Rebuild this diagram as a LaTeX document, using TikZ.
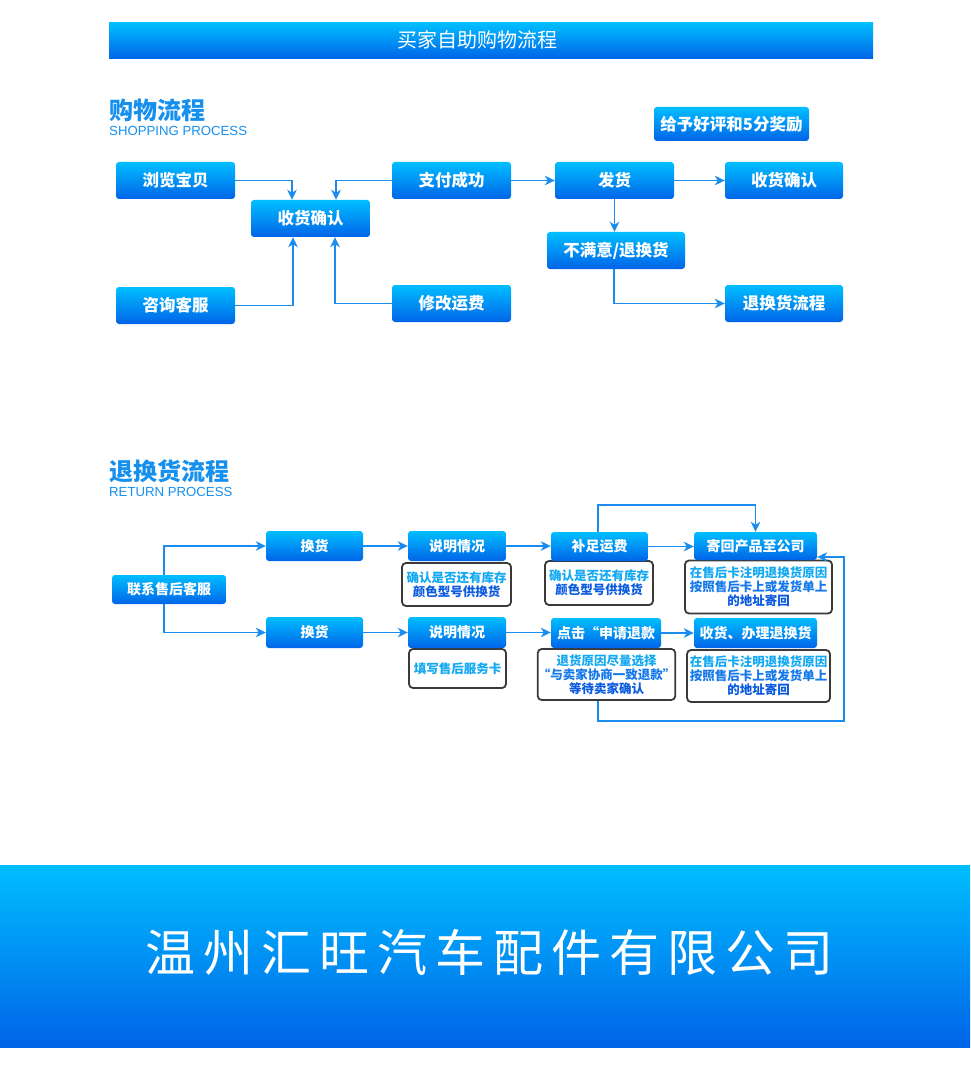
\documentclass[tikz,border=0pt]{standalone}
\usepackage{fontspec}
\newfontfamily\cjk{Noto Sans CJK SC}
\newfontfamily\cjkbig[LetterSpace=16]{Noto Sans CJK SC}
\newfontfamily\lat{Liberation Sans}
\usetikzlibrary{arrows.meta}
\definecolor{btop}{HTML}{00BEFF}
\definecolor{bbot}{HTML}{0064E8}
\definecolor{linec}{HTML}{1A8CF0}
\definecolor{headc}{HTML}{1590EE}
\definecolor{wborder}{HTML}{3A3A3A}
\definecolor{tA}{HTML}{12A8F2}
\definecolor{tB}{HTML}{1478EA}
\definecolor{tC}{HTML}{0A5AE0}
\begin{document}
\begin{tikzpicture}[x=1pt,y=-1pt,
  bluebox/.style={rectangle, rounded corners=3pt, top color=btop, bottom color=bbot, text=white, inner sep=0pt},
  sbox/.style={bluebox, font=\cjk\bfseries\fontsize{16.5}{16.5}\selectfont, minimum width=119pt, minimum height=37pt},
  rbox/.style={bluebox, font=\cjk\bfseries\fontsize{14}{14}\selectfont, minimum width=97pt, minimum height=30pt},
  wbox/.style={rectangle, draw=wborder, line width=1.8pt, rounded corners=4pt, fill=white, inner sep=0pt, align=center, font=\cjk\bfseries\fontsize{12.5}{14}\selectfont},
  conn/.style={draw=linec, line width=1.8pt, -{Stealth[length=10pt,width=9.5pt,inset=3pt]}},
  headcn/.style={anchor=west, inner sep=0pt, text=headc, font=\cjk\bfseries\fontsize{24}{24}\selectfont},
  headen/.style={anchor=west, inner sep=0pt, text=headc, font=\lat\fontsize{13.2}{13}\selectfont}]
\useasboundingbox (0,0) rectangle (970,1067);
\fill[white] (0,0) rectangle (970,1067);

% title bar
\shade[top color=btop, bottom color=bbot] (109,23) rectangle (873,59);
\node[text=white, font=\cjk\fontsize{20}{20}\selectfont, inner sep=0pt] (title) at (477,40) {买家自助购物流程};

% shopping process
\node[headcn] (h1cn) at (109,110) {购物流程};
\node[headen] (h1en) at (109,131) {SHOPPING PROCESS};

\node[sbox] (b1) at (175.5,180.5) {浏览宝贝};
\node[sbox] (c) at (310.5,218.5) {收货确认};
\node[sbox] (b2) at (451.5,180.5) {支付成功};
\node[sbox] (fh) at (614.5,180.5) {发货};
\node[sbox, minimum width=118pt] (sh) at (784,180.5) {收货确认};
\node[sbox, minimum width=155pt, minimum height=34pt] (hp) at (731.5,124) {给予好评和5分奖励};
\node[sbox, minimum width=138pt] (bm) at (616,250.5) {不满意/退换货};
\node[sbox] (zx) at (175.5,305.5) {咨询客服};
\node[sbox] (xg) at (451.5,303.5) {修改运费};
\node[sbox, minimum width=118pt] (th) at (784,303.5) {退换货流程};

\draw[conn] (b1.east) -| ([xshift=-18.5pt]c.north);
\draw[conn] (b2.west) -| ([xshift=25.5pt]c.north);
\draw[conn] (zx.east) -| ([xshift=-17.5pt]c.south);
\draw[conn] (xg.west) -| ([xshift=24.5pt]c.south);
\draw[conn] (b2.east) -- (fh.west);
\draw[conn] (fh.east) -- (sh.west);
\draw[conn] (fh.south) -- (fh.south |- bm.north);
\draw[conn] ([xshift=-2pt]bm.south) |- (th.west);

% return process
\node[headcn] (h2cn) at (109,471) {退换货流程};
\node[headen] (h2en) at (109,492) {RETURN PROCESS};

\node[wbox, minimum width=109pt, minimum height=43pt] (w1) at (456.5,584.5) {\color{tA}确认是否还有库存\\\color{tC}颜色型号供换货};
\node[wbox, minimum width=97pt, minimum height=39pt] (w2) at (457.5,668.5) {\color{tA}填写售后服务卡};
\node[wbox, minimum width=108pt, minimum height=44pt] (w3) at (599,583) {\color{tA}确认是否还有库存\\\color{tC}颜色型号供换货};
\node[wbox, minimum width=147pt, minimum height=53pt] (w4) at (758.5,587) {\color{tA}在售后卡注明退换货原因\\\color{tB}按照售后卡上或发货单上\\\color{tC}的地址寄回};
\node[wbox, minimum width=127pt, minimum height=51pt] (w5) at (606.5,674.5) {\color{tA}退货原因尽量选择\\\color{tB}“与卖家协商一致退款”\\\color{tC}等待卖家确认};
\node[wbox, minimum width=143pt, minimum height=52pt] (w6) at (758.5,676) {\color{tA}在售后卡注明退换货原因\\\color{tB}按照售后卡上或发货单上\\\color{tC}的地址寄回};

\node[rbox, minimum width=114pt, minimum height=29pt] (lx) at (169,589.5) {联系售后客服};
\node[rbox] (hh1) at (314.5,546) {换货};
\node[rbox, minimum width=98pt] (s1) at (457,546) {说明情况};
\node[rbox, minimum height=31pt] (hh2) at (314.5,632.5) {换货};
\node[rbox, minimum width=98pt, minimum height=31pt] (s2) at (457,632.5) {说明情况};
\node[rbox, minimum height=29pt] (bz) at (599.5,546.5) {补足运费};
\node[rbox, minimum width=123pt, minimum height=28pt] (jh) at (755.5,546) {寄回产品至公司};
\node[rbox, minimum width=110pt] (dj) at (606,633) {点击“申请退款};
\node[rbox, minimum width=123pt] (ss) at (755.5,633) {收货、办理退换货};

\draw[conn] ([xshift=-5pt]lx.north) |- (hh1.west);
\draw[conn] ([xshift=-5pt]lx.south) |- (hh2.west);
\draw[conn] (hh1.east) -- (hh1.east -| s1.west);
\draw[conn] (s1.east) -- (s1.east -| bz.west);
\draw[conn] (bz.east) -- (bz.east -| jh.west);
\draw[conn] (hh2.east) -- (hh2.east -| s2.west);
\draw[conn] (s2.east) -- (s2.east -| dj.west);
\draw[conn] (dj.east) -- (dj.east -| ss.west);
\draw[conn] ([xshift=-1.5pt]bz.north) -- ++(0,-27) -| (jh.north);
\coordinate (lp) at (844,721);
\draw[conn] ([xshift=-8.5pt]w5.south) |- (lp) |- ([yshift=-11pt]jh.east);

% bottom band
\shade[top color=btop, bottom color=bbot] (0,865) rectangle (970,1047);
\node[text=white, font=\cjkbig\fontsize{50}{50}\selectfont, inner sep=0pt] (company) at (489,952) {温州汇旺汽车配件有限公司};
\end{tikzpicture}
\end{document}
